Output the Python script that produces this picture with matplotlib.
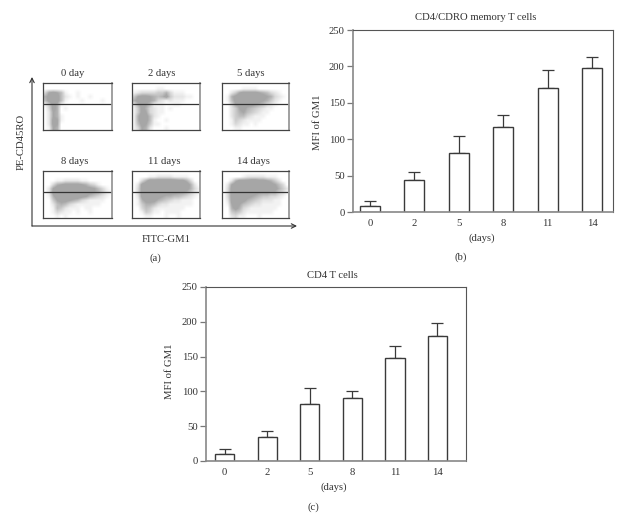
import numpy as np
import matplotlib
matplotlib.use("Agg")
import matplotlib.pyplot as plt

plt.rcParams['font.family'] = ['Liberation Serif', 'DejaVu Serif']
plt.rcParams['font.size'] = 7.7

W, H = 634, 518
DARK = '#3a3a3a'
TXT = '#333333'

days = ['0', '2', '5', '8', '11', '14']

# panel b, CD4/CDRO memory T cells
mem_mean = [8, 44, 81, 117, 171, 198]
mem_top = [15.5, 55, 105, 133, 195, 213]

# panel c, CD4 T cells
cd4_mean = [10.5, 34.5, 82, 91, 148, 180]
cd4_top = [17, 43, 105.5, 100, 165, 198]

yticks = [0, 50, 100, 150, 200, 250]

# panel a, dot density (rows top to bottom, 0-9)
flow_titles = ['0 day', '2 days', '5 days', '8 days', '11 days', '14 days']
flow_0 = ['00000000000000000', '00000000000000000', '37875100100000000', '68985210100100000',
          '58985100010000100', '14861000000000000', '03860100000000000', '02760000000000000',
          '02761000000000000', '02871000000000000', '02870000000000000', '01760000000000000']
flow_2 = ['00000000000000000', '00000011000000000', '12333344631110000', '47887656842221100',
          '68987632121110000', '26875111001100000', '14863211010000000', '14873211000000000',
          '16985210000000000', '16985100100000000', '15874110000000000', '13762000100000000']
flow_5 = ['00000000000000000', '00000111100000000', '00247888876532100', '01689999988763210',
          '01589999987642100', '00378988765321000', '00247865432110000', '00246754321100000',
          '00245532111000000', '00143211110000000', '00132110100000000', '00011000000000000']
flow_8 = ['00000000000000000', '00000000000000000', '00011222211000000', '00367888876431000',
          '02799999998875310', '02899999999876421', '01699999987543210', '00478876532111100',
          '00256532111111000', '00154211101100000', '00132110100100000', '00010100000000000']
flow_11 = ['00000000000000000', '00001122221111000', '00369999999886300', '02899999999999620',
           '03899999999988631', '03899999988776421', '02899987665543210', '01688865432211100',
           '01466532211111100', '00354211111110000', '00143110111100000', '00011000100100000']
flow_14 = ['00000000000000000', '00000122222111000', '00268889988764200', '02799999999987530',
           '03899999988888642', '03899998877766431', '03899987654433210', '02899865432221100',
           '01787543221111100', '00686321111111000', '00454211111110000', '00231100010000000']
flow_all = [flow_0, flow_2, flow_5, flow_8, flow_11, flow_14]


def px_axes(fig, left, top, right, bottom):
    return fig.add_axes([left / W, 1 - bottom / H, (right - left) / W, (bottom - top) / H])


def px_text(fig, x, y, s, **kw):
    fig.text(x / W, 1 - y / H, s, ha='center', va='center', color=TXT, **kw)


def bar_panel(fig, box, means, tops, xlim, title, title_xy, days_xy, tag_xy, ylabel_xy, letter):
    ax = px_axes(fig, *box)
    x = np.arange(len(means))
    err = np.array(tops) - np.array(means)
    ax.bar(x, means, width=0.45, color='white', edgecolor=DARK, linewidth=1.0, zorder=2)
    ax.errorbar(x, means, yerr=[np.zeros(len(err)), err], fmt='none', ecolor=DARK,
                elinewidth=0.9, capsize=4, capthick=0.9, zorder=1)
    ax.set_xlim(*xlim)
    ax.set_ylim(0, 250)
    ax.set_xticks(x, days)
    ax.set_yticks(yticks)
    ax.tick_params(axis='x', length=0, pad=5, colors=TXT)
    ax.tick_params(axis='y', length=4, width=0.9, pad=2, color='#777777', labelcolor=TXT)
    for s in ['top', 'right']:
        ax.spines[s].set_color('#555555')
        ax.spines[s].set_linewidth(0.8)
    for s in ['left', 'bottom']:
        ax.spines[s].set_color('#888888')
        ax.spines[s].set_linewidth(1.2)
    px_text(fig, *title_xy, title)
    px_text(fig, *days_xy, '(days)')
    px_text(fig, *tag_xy, letter)
    px_text(fig, *ylabel_xy, 'MFI of GM1', rotation=90)
    return ax


fig = plt.figure(figsize=(W / 100, H / 100), dpi=100)

# panel a
cm = matplotlib.colors.LinearSegmentedColormap.from_list('flow', ['white', '#a6a6a6'])
lefts = [43, 132, 222]
tops_px = [83, 171]
widths = [69, 68, 67]
for i, grid in enumerate(flow_all):
    l = lefts[i % 3]
    t = tops_px[i // 3]
    ax = px_axes(fig, l, t, l + widths[i % 3], t + 47)
    dens = np.array([[int(c) for c in row] for row in grid])
    ax.imshow(dens, cmap=cm, vmin=0, vmax=7, aspect='auto', interpolation='bilinear',
              extent=(0, 1, 0, 1))
    ax.axhline(0.55, color='#333333', lw=0.9)
    ax.set_xticks([])
    ax.set_yticks([])
    for s in ax.spines.values():
        s.set_color('#444444')
        s.set_linewidth(0.9)
    ax.spines['right'].set_color('#999999')
    ax.spines['right'].set_linewidth(1.3)

title_x = [73, 162, 251, 75, 164, 253]
title_y = [74, 74, 74, 162, 162, 162]
for i, s in enumerate(flow_titles):
    px_text(fig, title_x[i], title_y[i], s)

over = fig.add_axes([0, 0, 1, 1])
over.set_xlim(0, W)
over.set_ylim(H, 0)
over.axis('off')
arrow = dict(arrowstyle='->', color='#333333', lw=0.8, mutation_scale=8, shrinkA=0, shrinkB=0)
over.annotate('', xy=(32, 77), xytext=(32, 226), arrowprops=arrow)
over.annotate('', xy=(297, 226), xytext=(32, 226), arrowprops=arrow)
px_text(fig, 21, 142, 'PE-CD45RO', rotation=90)
px_text(fig, 166, 239, 'FITC-GM1')
px_text(fig, 155, 258, '(a)')

# panel b
bar_panel(fig, (353, 30, 613, 212), mem_mean, mem_top, (-0.38, 5.47),
          'CD4/CDRO memory T cells', (476, 18), (482, 238), (461, 257), (317, 122), '(b)')

# panel c
bar_panel(fig, (206, 287, 466, 461), cd4_mean, cd4_top, (-0.44, 5.67),
          'CD4 T cells', (332, 276), (334, 487), (313, 507), (169, 371), '(c)')

fig.savefig('out.png', dpi=100)
